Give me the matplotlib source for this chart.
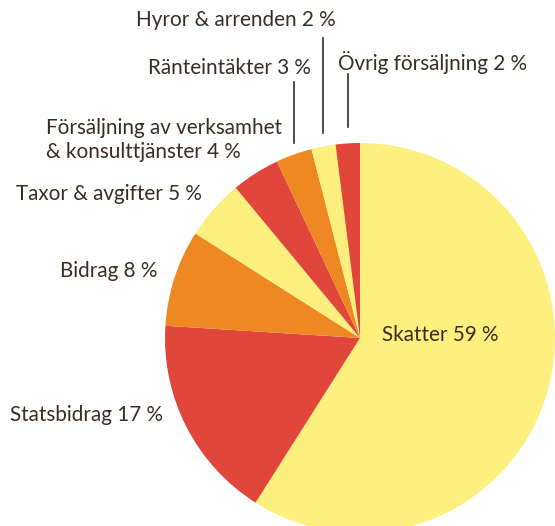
import numpy as np
import matplotlib.pyplot as plt

labels = ["Skatter 59 %", "Statsbidrag 17 %", "Bidrag 8 %", "Taxor & avgifter 5 %",
          "Försäljning av verksamhet\n& konsulttjänster 4 %", "Ränteintäkter 3 %",
          "Hyror & arrenden 2 %", "Övrig försäljning 2 %"]
shares = [59, 17, 8, 5, 4, 3, 2, 2]

YELLOW = "#fef07e"
RED = "#e1463b"
ORANGE = "#ee8822"
colors = [YELLOW, RED, ORANGE, YELLOW, RED, ORANGE, YELLOW, RED]
TEXT = "#3a2c24"

W, H = 555, 526
fig = plt.figure(figsize=(W / 100, H / 100), dpi=100)
ax = fig.add_axes([0, 0, 1, 1])

cx, cy, r = 360, H - 338, 195
ax.pie(shares, colors=colors, startangle=90, counterclock=False,
       radius=r, center=(cx, cy), frame=True,
       wedgeprops=dict(linewidth=0))
ax.set_xlim(0, W)
ax.set_ylim(0, H)
ax.set_aspect("equal")
ax.axis("off")

plt.rcParams["font.family"] = ["Lato", "DejaVu Sans"]
fs = 14.9

# label positions (left x, centre y in pixels from top)
pos = [(382, 335), (10, 415), (60, 271), (16, 194), (46, 140),
       (148, 68), (136, 20), (338, 62)]
for lab, (x, y) in zip(labels, pos):
    ax.text(x, H - y, lab, ha="left", va="center", fontsize=fs, color=TEXT,
            linespacing=1.2)

# leader lines for the small slices at the top
cum = np.cumsum([0] + shares)
tops = {5: 82, 6: 38, 7: 74}
bottoms = {5: 143, 6: 133, 7: 127}
for i in (5, 6, 7):
    mid = (cum[i] + cum[i + 1]) / 2 / 100 * 2 * np.pi
    x = cx - r * np.sin(2 * np.pi - mid)
    ax.plot([x, x], [H - bottoms[i], H - tops[i]], color=TEXT, lw=1.2)

fig.savefig("out.png", dpi=100)
